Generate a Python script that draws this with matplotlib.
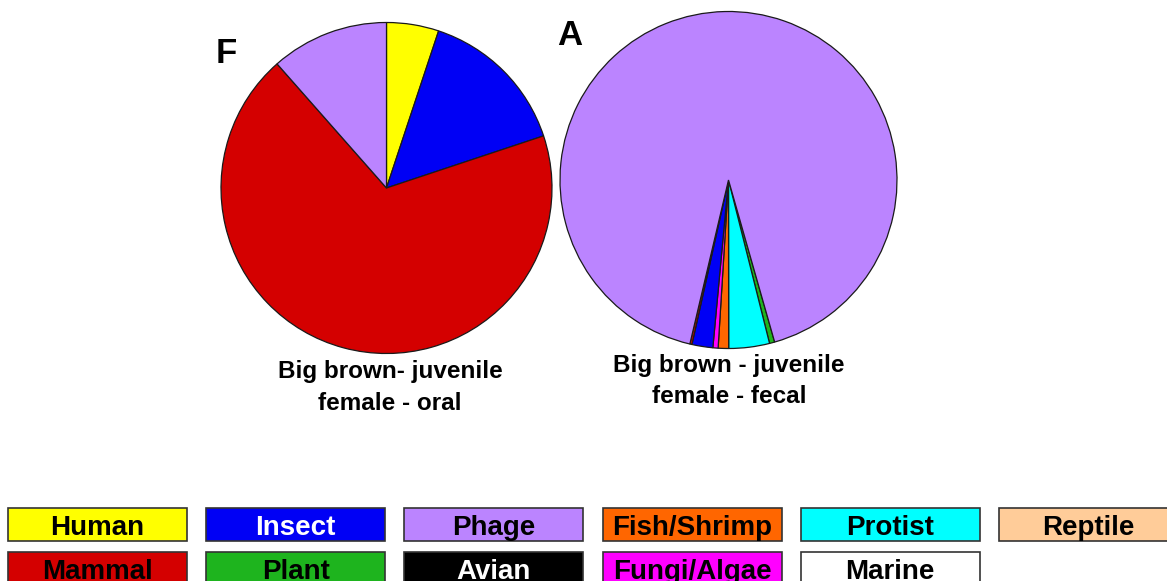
import matplotlib
matplotlib.use('Agg')
import matplotlib.pyplot as plt
from matplotlib.patches import Rectangle

plt.rcParams['font.family'] = ['Liberation Sans', 'DejaVu Sans']

# category colours
colours = {'Human': '#FFFF00', 'Insect': '#0000F5', 'Phage': '#BB84FF',
    'Fish/Shrimp': '#FF6600', 'Protist': '#00FFFF', 'Reptile': '#FFCC99',
    'Mammal': '#D40000', 'Plant': '#1EB41E', 'Avian': '#000000',
    'Fungi/Algae': '#FF00FF', 'Marine': '#FFFFFF'}

# F: big brown juvenile female, oral (percent)
f_labels = ['Human', 'Insect', 'Mammal', 'Phage']
f_values = [5.1, 14.8, 68.6, 11.5]

# A: big brown juvenile female, fecal (percent)
a_labels = ['Plant', 'Protist', 'Fish/Shrimp', 'Fungi/Algae', 'Insect', 'Mammal', 'Phage']
a_values = [0.5, 3.9, 1.0, 0.5, 2.0, 0.2, 91.9]

legend_rows = [['Human', 'Insect', 'Phage', 'Fish/Shrimp', 'Protist', 'Reptile'],
    ['Mammal', 'Plant', 'Avian', 'Fungi/Algae', 'Marine']]
white_text = ['Insect', 'Avian']

W, H = 1167, 581
fig = plt.figure(figsize=(W/100, H/100), dpi=100)

def pie_axes(cx, cy, r):
    return fig.add_axes([(cx-r)/W, 1-(cy+r)/H, 2*r/W, 2*r/H])

wp = dict(edgecolor='#1a1a1a', linewidth=0.9, clip_on=False)

ax_f = pie_axes(386.5, 188, 165.5)
ax_f.pie(f_values, colors=[colours[c] for c in f_labels], startangle=90,
    counterclock=False, wedgeprops=wp)
ax_f.set_xlim(-1, 1)
ax_f.set_ylim(-1, 1)
ax_f.set_aspect('auto')

ax_a = pie_axes(728.5, 180, 168.5)
ax_a.pie(a_values, colors=[colours[c] for c in a_labels], startangle=-74.1,
    counterclock=False, wedgeprops=wp)
ax_a.set_xlim(-1, 1)
ax_a.set_ylim(-1, 1)
ax_a.set_aspect('auto')

# overlay in pixel coordinates for the text and the colour key
ov = fig.add_axes([0, 0, 1, 1])
ov.set_xlim(0, W)
ov.set_ylim(H, 0)
ov.axis('off')
ov.patch.set_alpha(0)

ov.text(216, 63, 'F', fontsize=25, fontweight='bold', va='baseline')
ov.text(557, 45, 'A', fontsize=25, fontweight='bold', va='baseline')

ov.text(390, 378, 'Big brown- juvenile', fontsize=17.5, fontweight='bold',
    ha='center', va='baseline')
ov.text(390, 410, 'female - oral', fontsize=17.5, fontweight='bold',
    ha='center', va='baseline')
ov.text(729, 372, 'Big brown - juvenile', fontsize=17.5, fontweight='bold',
    ha='center', va='baseline')
ov.text(729, 403, 'female - fecal', fontsize=17.5, fontweight='bold',
    ha='center', va='baseline')

box_w, box_h, step = 179, 33, 198.2
for r, row in enumerate(legend_rows):
    y0 = 508 + r*44
    for i, name in enumerate(row):
        x0 = 8 + i*step
        ov.add_patch(Rectangle((x0, y0), box_w, box_h, facecolor=colours[name],
            edgecolor='#333333', linewidth=1.2, clip_on=False))
        ov.text(x0 + box_w/2, y0 + 27, name, fontsize=20, fontweight='bold',
            ha='center', va='baseline',
            color='white' if name in white_text else 'black')

fig.savefig('out.png', dpi=100)
